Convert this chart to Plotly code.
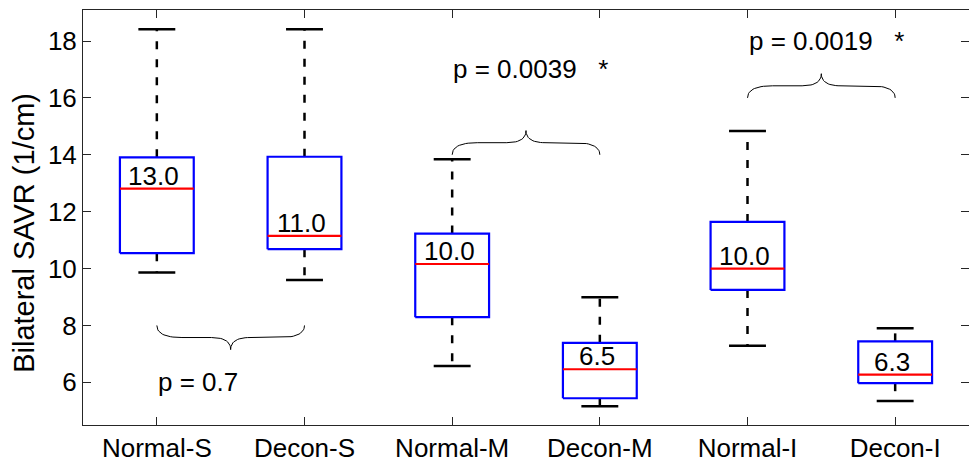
import numpy as np
import plotly.graph_objects as go

# ---- data ----
categories = ["Normal-S", "Decon-S", "Normal-M", "Decon-M", "Normal-I", "Decon-I"]
q1 = [10.54, 10.68, 8.29, 5.44, 9.25, 5.97]
median = [12.81, 11.15, 10.16, 6.46, 10.00, 6.27]
q3 = [13.91, 13.93, 11.23, 7.39, 11.64, 7.44]
whisker_low = [9.86, 9.60, 6.57, 5.16, 7.29, 5.34]
whisker_high = [18.41, 18.41, 13.84, 8.99, 14.84, 7.90]
median_labels = ["13.0", "11.0", "10.0", "6.5", "10.0", "6.3"]

pairs = [(1, 2), (3, 4), (5, 6)]
brace_base = [8.0, 14.0, 16.0]
brace_height = [-0.85, 0.85, 0.85]
p_texts = ["p = 0.7", "p = 0.0039\u00a0\u00a0\u00a0*", "p = 0.0019\u00a0\u00a0\u00a0*"]
p_pos_x = [1, 3, 5]
p_pos_y = [6.0, 17.0, 18.0]
y_title = "Bilateral SAVR (1/cm)"

FONT = "Liberation Sans, Arial, sans-serif"
FS = 26
xpos = np.arange(1, len(categories) + 1)
box_half = 0.25
cap_half = 0.125


def nanjoin(segs):
    xs, ys = [], []
    for sx, sy in segs:
        xs += list(sx) + [None]
        ys += list(sy) + [None]
    return xs, ys


def quad(p0, c, p1, n=16):
    t = np.linspace(0, 1, n)
    x = (1 - t) ** 2 * p0[0] + 2 * (1 - t) * t * c[0] + t ** 2 * p1[0]
    y = (1 - t) ** 2 * p0[1] + 2 * (1 - t) * t * c[1] + t ** 2 * p1[1]
    return list(x), list(y)


def brace(x1, x2, y0, h, d_end=0.17, d_tip=0.13):
    xm = (x1 + x2) / 2
    yf = y0 + h / 2
    yt = y0 + h
    xs, ys = [], []
    for seg in [quad((x1, y0), (x1, yf), (x1 + d_end, yf)),
                quad((xm - d_tip, yf), (xm, yf), (xm, yt)),
                quad((xm, yt), (xm, yf), (xm + d_tip, yf)),
                quad((x2 - d_end, yf), (x2, yf), (x2, y0))]:
        xs += seg[0]
        ys += seg[1]
    return xs, ys


fig = go.Figure()

# whiskers (dashed)
wx, wy = nanjoin([([x, x], [h, lo]) for x, h, lo in zip(xpos, q3, whisker_high)] +
                 [([x, x], [l, lo]) for x, l, lo in zip(xpos, q1, whisker_low)])
fig.add_trace(go.Scatter(x=wx, y=wy, mode="lines",
                         line=dict(color="black", width=2.5, dash="8px,10px"),
                         hoverinfo="skip", showlegend=False))
# caps
cx, cy = nanjoin([([x - cap_half, x + cap_half], [v, v]) for x, v in zip(xpos, whisker_high)] +
                 [([x - cap_half, x + cap_half], [v, v]) for x, v in zip(xpos, whisker_low)])
fig.add_trace(go.Scatter(x=cx, y=cy, mode="lines",
                         line=dict(color="black", width=2.5),
                         hoverinfo="skip", showlegend=False))
# boxes
bx, by = nanjoin([([x - box_half, x + box_half, x + box_half, x - box_half, x - box_half],
                   [a, a, b, b, a]) for x, a, b in zip(xpos, q1, q3)])
fig.add_trace(go.Scatter(x=bx, y=by, mode="lines",
                         line=dict(color="#0000FF", width=2.2),
                         hoverinfo="skip", showlegend=False))
# medians
mx, my = nanjoin([([x - box_half, x + box_half], [m, m]) for x, m in zip(xpos, median)])
fig.add_trace(go.Scatter(x=mx, y=my, mode="lines",
                         line=dict(color="#FF0000", width=2.2),
                         hoverinfo="skip", showlegend=False))
# braces
for (a, b), y0, h in zip(pairs, brace_base, brace_height):
    brx, bry = brace(a, b, y0, h)
    fig.add_trace(go.Scatter(x=brx, y=bry, mode="lines",
                             line=dict(color="black", width=1),
                             hoverinfo="skip", showlegend=False))

annotations = []
for x, m, lab in zip(xpos, median, median_labels):
    annotations.append(dict(x=x, y=m, text=lab, showarrow=False, xanchor="center",
                            yanchor="bottom", xshift=-3, yshift=-4,
                            font=dict(family=FONT, size=FS, color="black")))
for x, y, t in zip(p_pos_x, p_pos_y, p_texts):
    annotations.append(dict(x=x, y=y, text=t, showarrow=False, xanchor="left",
                            yanchor="middle", xshift=-1,
                            font=dict(family=FONT, size=FS, color="black")))
# y-axis title placed as rotated text
annotations.append(dict(x=-0.0666, y=0.463, xref="paper", yref="paper", text=y_title,
                        textangle=-90, showarrow=False, xanchor="center", yanchor="middle",
                        font=dict(family=FONT, size=29, color="black")))

axis_common = dict(showline=True, linecolor="#262626", linewidth=1, mirror="ticks",
                   ticks="inside", ticklen=8, tickcolor="#262626", tickwidth=1,
                   showgrid=False, zeroline=False,
                   tickfont=dict(family=FONT, size=FS, color="black"))

fig.update_layout(
    width=969, height=462,
    margin=dict(l=83, r=0, t=10, b=37),
    plot_bgcolor="white", paper_bgcolor="white",
    annotations=annotations,
    xaxis=dict(range=[0.5, 6.5], tickvals=list(xpos), ticktext=categories, **axis_common),
    yaxis=dict(range=[4.5, 19.09], tickvals=[6, 8, 10, 12, 14, 16, 18], **axis_common),
)

fig.write_html("out.html")
